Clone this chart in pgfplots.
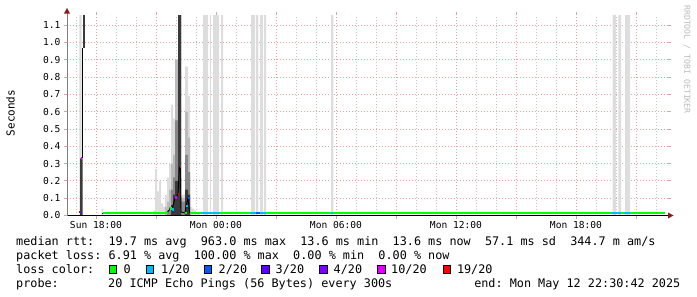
\documentclass[border=0pt]{standalone}
\usepackage{pgfplots}
\pgfplotsset{compat=1.18}
\usepackage{fontspec}
\setmainfont{DejaVu Sans Mono}
\definecolor{lzero}{HTML}{00FF00}
\definecolor{lone}{HTML}{00B8FF}
\definecolor{ltwo}{HTML}{0059FF}
\definecolor{lthree}{HTML}{5E00FF}
\definecolor{lfour}{HTML}{7E00FF}
\definecolor{lten}{HTML}{DD00FF}
\definecolor{lnineteen}{HTML}{FF0000}
\definecolor{smokeA}{HTML}{DDDDDD}
\definecolor{smokeB}{HTML}{BBBBBB}
\definecolor{smokeC}{HTML}{888888}
\definecolor{smokeD}{HTML}{3A3A3A}
\definecolor{majgrid}{HTML}{E4A0A0}
\definecolor{mingrid}{HTML}{C4C4C4}
\definecolor{arrowred}{HTML}{8B1A1A}
\definecolor{wmark}{HTML}{BBBBBB}
\begin{document}
\frenchspacing
\begin{tikzpicture}
\begin{axis}[
  at={(67bp,-215.5bp)}, anchor=south west,
  scale only axis, width=601bp, height=200.5bp,
  xmin=16.55, xmax=46.6, ymin=0, ymax=1.158,
  axis line style={draw=none},
  xtick={18,21,...,45},
  xticklabels={Sun 18:00,,Mon 00:00,,Mon 06:00,,Mon 12:00,,Mon 18:00,},
  minor xtick={17,...,46},
  ytick={0,0.1,0.2,0.3,0.4,0.5,0.6,0.7,0.8,0.9,1.0,1.1},
  yticklabels={0.0,0.1,0.2,0.3,0.4,0.5,0.6,0.7,0.8,0.9,1.0,1.1},
  xmajorgrids, xminorgrids, ymajorgrids,
  major grid style={majgrid, line width=0.8bp, dash pattern=on 1bp off 2bp},
  minor grid style={mingrid, line width=0.8bp, dash pattern=on 1bp off 2bp},
  tick align=outside, major tick length=3bp, minor tick length=0bp,
  every tick/.style={majgrid, line width=0.8bp},
  tick label style={font=\fontsize{9.6bp}{11bp}\selectfont, text=black},
  xticklabel style={yshift=1bp},
  unbounded coords=jump,
  clip=true,
]
% smoke, lightest layer (max of pings, full-height columns where pings were lost)
\addplot[const plot, fill=smokeA, draw=none] coordinates {
(16.55,0) (17.165,1.3) (17.285,0) (18.285,0.04) (18.365,0)
(20.85,0.03) (20.95,0.27) (21.05,0.14) (21.15,0.20) (21.25,0.07) (21.35,0.05) (21.45,0.12) (21.55,0.22) (21.65,0.30) (21.75,0.64) (21.85,0.56) (21.95,0.90) (22.1,1.3) (22.25,0.12) (22.45,0.86) (22.6,0.69) (22.7,0.05) (22.8,0.04) (22.9,0.03) (23.0,0.02) (23.2,0)
(23.35,1.3) (23.6,0) (23.7,1.3) (23.75,0) (23.85,1.3) (24.15,0) (24.25,1.3) (24.35,0)
(25.75,1.3) (25.95,0) (26.0,1.3) (26.115,0) (26.2,1.3) (26.35,0) (26.4,1.3) (26.5,0)
(29.75,1.3) (29.865,0) (43.835,1.3) (44.0,0) (44.115,1.3) (44.25,0) (44.45,1.3) (44.7,0) (46.45,0)
} \closedcycle;
\addplot[const plot, fill=smokeB, draw=none] coordinates {
(21.45,0.05) (21.55,0.08) (21.65,0.15) (21.75,0.30) (21.85,0.35) (21.95,0.90) (22.1,1.3) (22.25,0.10) (22.45,0.60) (22.6,0.45) (22.7,0) (22.8,0)
} \closedcycle;
\addplot[const plot, fill=smokeC, draw=none] coordinates {
(21.55,0.03) (21.65,0.05) (21.75,0.15) (21.85,0.22) (21.95,0.55) (22.1,1.3) (22.25,0.08) (22.45,0.35) (22.6,0.25) (22.7,0) (22.8,0)
} \closedcycle;
\addplot[const plot, fill=smokeD, draw=none] coordinates {
(21.75,0.06) (21.85,0.12) (21.95,0.20) (22.1,1.3) (22.25,0) (22.45,0.15) (22.6,0.12) (22.7,0) (22.8,0)
} \closedcycle;
% spike near 17:15
\addplot[const plot, fill=smokeD, draw=none] coordinates {(17.2,0.33) (17.335,0) (17.4,0)} \closedcycle;
\addplot[fill=smokeD, draw=none] coordinates {(17.335,0.965) (17.435,0.965) (17.435,1.3) (17.335,1.3)} -- cycle;
\addplot[black, line width=0.9bp] coordinates {(17.315,0.33) (17.315,0.965) (17.335,0.965)};
\addplot[black, line width=0.9bp] coordinates {(18.285,0.01) (18.335,0.01)};
% thin trace through the cluster near midnight
\addplot[black, line width=0.9bp] coordinates {
(21.55,0.0145) (21.65,0.03) (21.7,0.04) (21.8,0.035) (21.95,0.1) (22.0,0.105) (22.1,0.125) (22.17,0.28) (22.22,0.28) (22.25,0.02) (22.45,0.015) (22.5,0.055) (22.6,0.10) (22.68,0.015)};
% median rtt, coloured by packet loss
\addplot[lzero, line width=2.6bp, line cap=butt] coordinates {
(18.335,0.0145) (21.6,0.0145) (0,nan)
(21.7,0.04) (21.785,0.04) (0,nan)
(22.45,0.015) (22.535,0.015) (0,nan)
(22.7,0.0145) (23.25,0.0145) (0,nan)
(24.2,0.0145) (25.7,0.0145) (0,nan)
(26.5,0.0145) (29.75,0.0145) (0,nan)
(29.865,0.0145) (43.75,0.0145) (0,nan)
(44.25,0.0145) (44.4,0.0145) (0,nan)
(44.7,0.0145) (46.45,0.0145)};
\addplot[lone, line width=2.6bp, line cap=butt] coordinates {
(21.8,0.035) (21.9,0.035) (0,nan)
(22.5,0.055) (22.6,0.055) (0,nan)
(23.25,0.0145) (24.2,0.0145) (0,nan)
(25.7,0.0145) (26.0,0.0145) (0,nan)
(26.2,0.0145) (26.5,0.0145) (0,nan)
(29.75,0.0145) (29.865,0.0145) (0,nan)
(43.75,0.0145) (44.25,0.0145) (0,nan)
(44.4,0.0145) (44.7,0.0145)};
\addplot[ltwo, line width=2.6bp, line cap=butt] coordinates {
(22.6,0.10) (22.7,0.10) (0,nan)
(26.0,0.0145) (26.2,0.0145)};
\addplot[lten, line width=2.6bp, line cap=butt] coordinates {
(17.25,0.33) (17.32,0.33) (0,nan)
(21.97,0.105) (22.05,0.105)};
\addplot[lfour, line width=2.6bp, line cap=butt] coordinates {(17.165,0.02) (17.25,0.02)};
\addplot[lnineteen, line width=2.6bp, line cap=butt] coordinates {
(22.1,0.125) (22.17,0.125) (0,nan)
(22.19,0.28) (22.23,0.28)};
\end{axis}
% axes and arrows
\draw[black, line width=1bp] (67bp,-215.5bp) -- (668bp,-215.5bp);
\draw[gray, line width=1bp] (67bp,-215.5bp) -- (67bp,-12bp);
\fill[arrowred] (668bp,-212.5bp) -- (673.5bp,-215.5bp) -- (668bp,-218.5bp) -- cycle;
\fill[arrowred] (64bp,-13.5bp) -- (67bp,-8bp) -- (70bp,-13.5bp) -- cycle;
% texts
\node[rotate=90, font=\fontsize{11bp}{13bp}\selectfont] at (10.5bp,-113bp) {Seconds};
\node[rotate=-90, anchor=west, inner sep=0pt, text=wmark, font=\fontsize{8.2bp}{10bp}\selectfont] at (687bp,-5bp) {RRDTOOL / TOBI OETIKER};
\begin{scope}[every node/.style={inner sep=0pt, font=\fontsize{11.8bp}{14bp}\selectfont}]
\node[anchor=base west] at (16bp,-245bp) {median rtt:~~19.7 ms avg~~963.0 ms max~~13.6 ms min~~13.6 ms now~~57.1 ms sd~~344.7 m am/s};
\node[anchor=base west] at (16bp,-259.5bp) {packet loss:~6.91 \% avg~~100.00 \% max~~0.00 \% min~~0.00 \% now};
\node[anchor=base west] at (16bp,-273.5bp) {loss color:};
\node[anchor=base west] at (16bp,-287.5bp) {probe:};
\node[anchor=base west] at (108bp,-287.5bp) {20 ICMP Echo Pings (56 Bytes) every 300s};
\node[anchor=base east] at (680.5bp,-287.5bp) {end: Mon May 12 22:30:42 2025};
\filldraw[fill=lzero, draw=black, line width=0.8bp] (108.9bp,-265bp) rectangle (116.4bp,-273.5bp);
\node[anchor=base west] at (123.5bp,-273.5bp) {0};
\filldraw[fill=lone, draw=black, line width=0.8bp] (146.3bp,-265bp) rectangle (153.8bp,-273.5bp);
\node[anchor=base west] at (161bp,-273.5bp) {1/20};
\filldraw[fill=ltwo, draw=black, line width=0.8bp] (204bp,-265bp) rectangle (211.5bp,-273.5bp);
\node[anchor=base west] at (218.5bp,-273.5bp) {2/20};
\filldraw[fill=lthree, draw=black, line width=0.8bp] (261.7bp,-265bp) rectangle (269.2bp,-273.5bp);
\node[anchor=base west] at (275.5bp,-273.5bp) {3/20};
\filldraw[fill=lfour, draw=black, line width=0.8bp] (319.6bp,-265bp) rectangle (327.1bp,-273.5bp);
\node[anchor=base west] at (333.5bp,-273.5bp) {4/20};
\filldraw[fill=lten, draw=black, line width=0.8bp] (377.6bp,-265bp) rectangle (385.1bp,-273.5bp);
\node[anchor=base west] at (391bp,-273.5bp) {10/20};
\filldraw[fill=lnineteen, draw=black, line width=0.8bp] (443bp,-265bp) rectangle (450.5bp,-273.5bp);
\node[anchor=base west] at (456.8bp,-273.5bp) {19/20};
\end{scope}
\pgfresetboundingbox
\path (0,0) rectangle (697bp,-297bp);
\end{tikzpicture}
\end{document}
